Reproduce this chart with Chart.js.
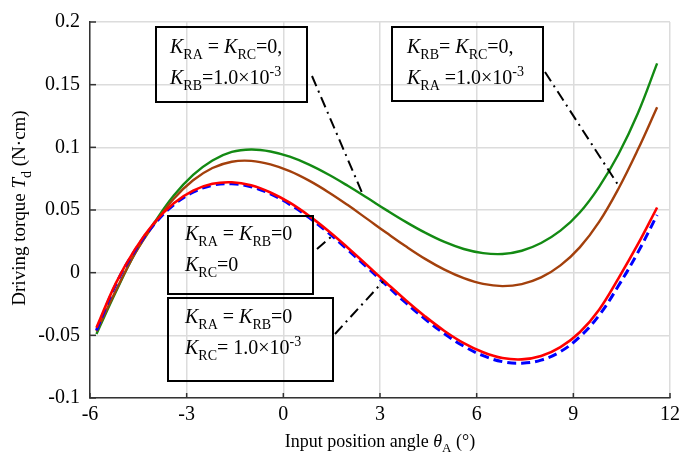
<!DOCTYPE html>
<html>
<head>
<meta charset="utf-8">
<script src="https://cdn.jsdelivr.net/npm/chart.js@4"></script>
<style>
  html, body { margin: 0; padding: 0; background: #fff; }
  #wrap { width: 685px; height: 461px; position: relative; }
</style>
</head>
<body>
<div id="wrap"><canvas id="torqueChart"></canvas></div>
<script>
// input position angle (deg)
const angles = [-5.8, -5.2, -4.6, -4.0, -3.4, -2.8, -2.2, -1.6, -1.0, -0.4, 0.2, 0.8, 1.4, 2.0, 2.6,
  3.2, 3.8, 4.4, 5.0, 5.6, 6.2, 6.8, 7.4, 8.0, 8.6, 9.2, 9.8, 10.4, 11.0, 11.6];

// driving torque (N·cm)
const torqueKRB = [-0.049, -0.0155, 0.0155, 0.040, 0.0615, 0.078, 0.0895, 0.0963, 0.0983, 0.0967, 0.0925, 0.0862, 0.0783, 0.0693, 0.0597,
  0.0499, 0.0405, 0.0319, 0.0245, 0.0189, 0.0156, 0.0149, 0.0175, 0.0237, 0.0335, 0.0480, 0.0685, 0.0945, 0.127, 0.167];
const torqueKRA = [-0.047, -0.0145, 0.0155, 0.039, 0.059, 0.0737, 0.0835, 0.0885, 0.0892, 0.0864, 0.0810, 0.0734, 0.0642, 0.0539, 0.0429,
  0.0318, 0.0210, 0.0110, 0.0024, -0.0044, -0.0090, -0.0107, -0.0091, -0.0038, 0.0058, 0.0202, 0.0405, 0.067, 0.098, 0.132];
const torqueKRC = [-0.044, -0.0085, 0.0188, 0.0400, 0.0553, 0.0654, 0.0709, 0.0721, 0.0697, 0.0640, 0.0558, 0.0453, 0.0332, 0.0199, 0.0059,
  -0.0082, -0.0220, -0.0349, -0.0465, -0.0562, -0.0635, -0.0681, -0.0692, -0.0665, -0.0594, -0.0475, -0.0295, -0.0045, 0.0225, 0.052];
const torqueZero = [-0.046, -0.0095, 0.0178, 0.0388, 0.0541, 0.0642, 0.0697, 0.0709, 0.0685, 0.0628, 0.0545, 0.0439, 0.0317, 0.0183, 0.0042,
  -0.0100, -0.0240, -0.0370, -0.0488, -0.0587, -0.0662, -0.0710, -0.0722, -0.0698, -0.0630, -0.0512, -0.0340, -0.0105, 0.0160, 0.046];

const xTicks = [-6, -3, 0, 3, 6, 9, 12];
const yTicks = [-0.1, -0.05, 0, 0.05, 0.1, 0.15, 0.2];

const serif = '"Liberation Serif", "Times New Roman", serif';

function toPoints(ys) {
  return angles.map((x, i) => ({ x: x, y: ys[i] }));
}

function setFont(ctx, kind, size) {
  if (kind === 'i') ctx.font = 'italic ' + size + 'px ' + serif;
  else if (kind === 'sub' || kind === 'sup') ctx.font = Math.round(size * 0.72) + 'px ' + serif;
  else ctx.font = size + 'px ' + serif;
}

// text with italic / subscript / superscript pieces
function drawRich(ctx, x, y, parts, size) {
  parts.forEach(p => {
    let dy = 0;
    if (p[1] === 'sub') dy = size * 0.3;
    if (p[1] === 'sup') dy = -size * 0.42;
    setFont(ctx, p[1], size);
    ctx.fillText(p[0], x, y + dy);
    x += ctx.measureText(p[0]).width;
  });
  return x;
}

function richWidth(ctx, parts, size) {
  let w = 0;
  parts.forEach(p => {
    setFont(ctx, p[1], size);
    w += ctx.measureText(p[0]).width;
  });
  return w;
}

const notes = [
  { box: [156, 27, 307, 102], text: [170, 53],
    lines: [[['K', 'i'], ['RA', 'sub'], [' = ', 'n'], ['K', 'i'], ['RC', 'sub'], ['=0,', 'n']],
            [['K', 'i'], ['RB', 'sub'], ['=1.0\u00d710', 'n'], ['-3', 'sup']]],
    from: [312, 76], to: { x: 2.44, y: 0.064 } },
  { box: [392, 27, 543, 101], text: [407, 53],
    lines: [[['K', 'i'], ['RB', 'sub'], ['= ', 'n'], ['K', 'i'], ['RC', 'sub'], ['=0,', 'n']],
            [['K', 'i'], ['RA', 'sub'], [' =1.0\u00d710', 'n'], ['-3', 'sup']]],
    from: [545, 72], to: { x: 10.44, y: 0.068 } },
  { box: [168, 216, 313, 294], text: [185, 240],
    lines: [[['K', 'i'], ['RA', 'sub'], [' = ', 'n'], ['K', 'i'], ['RB', 'sub'], ['=0', 'n']],
            [['K', 'i'], ['RC', 'sub'], ['=0', 'n']]],
    from: [317, 249], to: { x: 1.52, y: 0.0294 } },
  { box: [168, 298, 333, 381], text: [185, 323],
    lines: [[['K', 'i'], ['RA', 'sub'], [' = ', 'n'], ['K', 'i'], ['RB', 'sub'], ['=0', 'n']],
            [['K', 'i'], ['RC', 'sub'], ['= 1.0\u00d710', 'n'], ['-3', 'sup']]],
    from: [335, 334], to: { x: 3.1, y: -0.0069 } }
];

const extrasPlugin = {
  id: 'extras',
  afterDraw(chart) {
    const ctx = chart.ctx;
    const xs = chart.scales.x, ys = chart.scales.y;
    const area = chart.chartArea;
    ctx.save();

    // inward ticks
    ctx.strokeStyle = '#333';
    ctx.lineWidth = 1.5;
    yTicks.forEach(v => {
      const py = ys.getPixelForValue(v);
      ctx.beginPath(); ctx.moveTo(area.left, py); ctx.lineTo(area.left + 6, py); ctx.stroke();
    });
    xTicks.forEach(v => {
      const px = xs.getPixelForValue(v);
      ctx.beginPath(); ctx.moveTo(px, area.bottom); ctx.lineTo(px, area.bottom - 5); ctx.stroke();
    });

    // annotation boxes and leader lines
    ctx.fillStyle = '#000';
    ctx.textBaseline = 'alphabetic';
    notes.forEach(n => {
      ctx.strokeStyle = '#000';
      ctx.lineWidth = 2;
      ctx.setLineDash([]);
      ctx.strokeRect(n.box[0], n.box[1], n.box[2] - n.box[0], n.box[3] - n.box[1]);
      n.lines.forEach((ln, i) => drawRich(ctx, n.text[0], n.text[1] + i * 31, ln, 20));
      ctx.setLineDash([11, 5, 2, 5]);
      ctx.beginPath();
      ctx.moveTo(n.from[0], n.from[1]);
      ctx.lineTo(xs.getPixelForValue(n.to.x), ys.getPixelForValue(n.to.y));
      ctx.stroke();
    });
    ctx.setLineDash([]);

    // axis titles
    const xTitle = [['Input position angle ', 'n'], ['\u03b8', 'i'], ['A', 'sub'], [' (\u00b0)', 'n']];
    const xw = richWidth(ctx, xTitle, 18);
    drawRich(ctx, (area.left + area.right) / 2 - xw / 2, 447, xTitle, 18);

    const yTitle = [['Driving torque ', 'n'], ['T', 'i'], ['d', 'sub'], [' (N\u00b7cm)', 'n']];
    const yw = richWidth(ctx, yTitle, 19);
    ctx.translate(25, (area.top + area.bottom) / 2 - 2);
    ctx.rotate(-Math.PI / 2);
    drawRich(ctx, -yw / 2, 0, yTitle, 19);
    ctx.restore();
  }
};

new Chart(document.getElementById('torqueChart').getContext('2d'), {
  type: 'line',
  data: {
    datasets: [
      { label: 'K_RC = 1.0e-3', data: toPoints(torqueKRC), borderColor: '#ff0000', borderWidth: 2.6, order: 0 },
      { label: 'all zero', data: toPoints(torqueZero), borderColor: '#0000ff', borderWidth: 3, borderDash: [9, 5], order: 1 },
      { label: 'K_RA = 1.0e-3', data: toPoints(torqueKRA), borderColor: '#a3400c', borderWidth: 2.4, order: 2 },
      { label: 'K_RB = 1.0e-3', data: toPoints(torqueKRB), borderColor: '#138a13', borderWidth: 2.4, order: 3 }
    ]
  },
  options: {
    responsive: true,
    maintainAspectRatio: false,
    animation: false,
    layout: { autoPadding: false, padding: { left: 0, right: 9, top: 6, bottom: 0 } },
    elements: {
      point: { radius: 0 },
      line: { tension: 0.4, fill: false }
    },
    plugins: {
      legend: { display: false },
      tooltip: { enabled: false }
    },
    scales: {
      x: {
        type: 'linear',
        min: -6,
        max: 12,
        afterFit: s => { s.height = 63; },
        afterBuildTicks: s => { s.ticks = xTicks.map(v => ({ value: v })); },
        grid: { color: '#dcdcdc', lineWidth: 1.5, drawTicks: false },
        border: { color: '#333', width: 1.5 },
        ticks: { color: '#000', padding: 5, font: { family: serif, size: 20 } }
      },
      y: {
        min: -0.1,
        max: 0.2,
        afterFit: s => { s.width = 90; },
        afterBuildTicks: s => { s.ticks = yTicks.map(v => ({ value: v })); },
        grid: { color: '#dcdcdc', lineWidth: 1.5, drawTicks: false },
        border: { color: '#333', width: 1.5 },
        ticks: {
          color: '#000',
          padding: 10,
          font: { family: serif, size: 20 },
          callback: v => String(Number(v.toFixed(2)))
        }
      }
    }
  },
  plugins: [extrasPlugin]
});
</script>
</body>
</html>
